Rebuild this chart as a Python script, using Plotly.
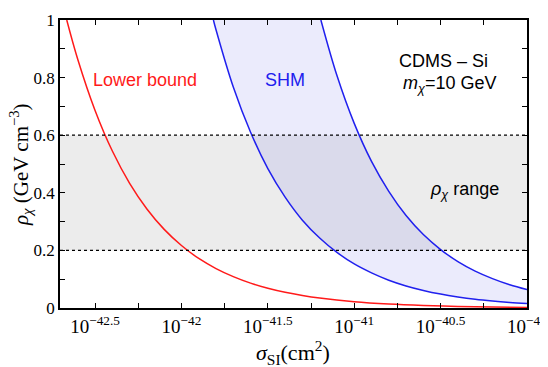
import plotly.graph_objects as go

# Red "Lower bound" curve: log10(sigma) and rho
red_logsig = [-42.664, -42.6, -42.5, -42.4, -42.3, -42.2, -42.1, -42.0, -41.9, -41.8, -41.7,
              -41.6, -41.5, -41.4, -41.3, -41.2, -41.0, -40.8, -40.6, -40.4, -40.2, -40.0]
red_rho = [1.0, 0.863, 0.686, 0.545, 0.433, 0.344, 0.273, 0.217, 0.172, 0.137, 0.109,
           0.0863, 0.0686, 0.0545, 0.0433, 0.0344, 0.0217, 0.0137, 0.00863, 0.00545, 0.00344, 0.00217]

# SHM band: left (lower) edge
shm_lo_logsig = [-41.815, -41.8, -41.7, -41.6, -41.5, -41.4, -41.3, -41.2, -41.1, -41.0,
                 -40.9, -40.8, -40.7, -40.6, -40.5, -40.4, -40.3, -40.2, -40.1, -40.0]
shm_lo_rho = [1.0, 0.966, 0.767, 0.610, 0.484, 0.385, 0.305, 0.243, 0.193, 0.153,
              0.122, 0.0966, 0.0767, 0.0610, 0.0484, 0.0385, 0.0305, 0.0243, 0.0193, 0.0153]

# SHM band: right (upper) edge
shm_hi_logsig = [-41.193, -41.1, -41.0, -40.9, -40.8, -40.7, -40.6, -40.5, -40.4, -40.3,
                 -40.2, -40.1, -40.0]
shm_hi_rho = [1.0, 0.807, 0.641, 0.509, 0.405, 0.321, 0.255, 0.203, 0.161, 0.128,
              0.102, 0.0807, 0.0641]

rho_range = [0.2, 0.6]

x_tick_exps = [-42.5, -42.0, -41.5, -41.0, -40.5, -40.0]
x_tick_labels = ["10<sup>−42.5</sup>", "10<sup>−42</sup>", "10<sup>−41.5</sup>",
                 "10<sup>−41</sup>", "10<sup>−40.5</sup>", "10<sup>−40</sup>"]
x_minor_exps = [-42.75, -42.25, -41.75, -41.25, -40.75, -40.25]
y_ticks = [0, 0.2, 0.4, 0.6, 0.8, 1.0]
y_tick_labels = ["0", "0.2", "0.4", "0.6", "0.8", "1"]
x_min_exp, x_max_exp = -42.703, -40.0

red_sig = [10 ** v for v in red_logsig]
lo_sig = [10 ** v for v in shm_lo_logsig]
hi_sig = [10 ** v for v in shm_hi_logsig]

fig = go.Figure()

# gray rho band
fig.add_shape(type="rect", xref="paper", yref="y", x0=0, x1=1, y0=rho_range[0], y1=rho_range[1],
              fillcolor="rgba(0,0,0,0.075)", line_width=0, layer="below")

# SHM filled polygon
poly_x = lo_sig + hi_sig[::-1]
poly_y = shm_lo_rho + shm_hi_rho[::-1]
fig.add_trace(go.Scatter(x=poly_x, y=poly_y, fill="toself", mode="none",
                         fillcolor="rgba(110,110,235,0.14)", hoverinfo="skip", showlegend=False))

fig.add_trace(go.Scatter(x=lo_sig, y=shm_lo_rho, mode="lines", line=dict(color="#2020ee", width=1.5),
                         line_shape="spline", showlegend=False))
fig.add_trace(go.Scatter(x=hi_sig, y=shm_hi_rho, mode="lines", line=dict(color="#2020ee", width=1.5),
                         line_shape="spline", showlegend=False))
fig.add_trace(go.Scatter(x=red_sig, y=red_rho, mode="lines", line=dict(color="#ff1a1a", width=1.5),
                         line_shape="spline", showlegend=False))

for yv in rho_range:
    fig.add_shape(type="line", xref="paper", yref="y", x0=0, x1=1, y0=yv, y1=yv,
                  line=dict(color="black", width=1.2, dash="dot"))

tickvals = sorted([10 ** e for e in x_tick_exps] + [10 ** e for e in x_minor_exps])
ticktext = []
for tv in tickvals:
    lab = ""
    for e, t in zip(x_tick_exps, x_tick_labels):
        if abs(tv - 10 ** e) / tv < 1e-6:
            lab = t
    ticktext.append(lab)

yvals = [i / 10 for i in range(11)]
ytext = []
for v in yvals:
    lab = ""
    for t, l in zip(y_ticks, y_tick_labels):
        if abs(v - t) < 1e-9:
            lab = l
    ytext.append(lab)

serif = "Liberation Serif, Times New Roman, serif"
sans = "Liberation Sans, Arial, sans-serif"

fig.update_xaxes(type="log", range=[x_min_exp, x_max_exp], tickvals=tickvals, ticktext=ticktext,
                 ticks="inside", ticklen=5, tickwidth=1.2, tickcolor="black", mirror="ticks",
                 showline=True, linecolor="black", linewidth=1.5, showgrid=False, zeroline=False,
                 tickfont=dict(family=serif, size=19, color="black"), automargin=False)
fig.update_yaxes(range=[0, 1], tickvals=yvals, ticktext=ytext,
                 ticks="inside", ticklen=5, tickwidth=1.2, tickcolor="black", mirror="ticks",
                 showline=True, linecolor="black", linewidth=1.5, showgrid=False, zeroline=False,
                 tickfont=dict(family=serif, size=17, color="black"), automargin=False)

# page has an 8px body margin: size the figure so it fills the 548x367 window
OFF = 8
W, H = 548 - OFF, 367 - OFF
ml, mr, mt, mb = 60 - OFF, 21, 20 - OFF, 59
pw, ph = W - ml - mr, H - mt - mb


def px(xp):
    return (xp - OFF - ml) / pw


def py(yp):
    return 1 - (yp - OFF - mt) / ph


annots = [
    dict(text="Lower bound", x=145, y=80, color="#ff1a1a", size=18, fam=sans),
    dict(text="SHM", x=285, y=80, color="#2020ee", size=18, fam=sans),
    dict(text="CDMS – Si", x=443, y=61, color="black", size=18, fam=sans),
    dict(text="<i>m</i><sub><i>χ</i></sub>=10 GeV", x=449, y=84, color="black", size=18, fam=sans),
    dict(text="<i>ρ</i><sub><i>χ</i></sub> range", x=464, y=190, color="black", size=18, fam=sans),
    dict(text="<i>σ</i><sub>SI</sub>(cm<sup>2</sup>)", x=293, y=352, color="black", size=22, fam=serif),
]
for a in annots:
    fig.add_annotation(text=a["text"], xref="paper", yref="paper",
                       x=px(a["x"]), y=py(a["y"]),
                       showarrow=False, xanchor="center", yanchor="middle",
                       font=dict(family=a["fam"], size=a["size"], color=a["color"]))

# y axis title
fig.add_annotation(text="<i>ρ</i><sub><i>χ</i></sub> (GeV cm<sup>−3</sup>)", xref="paper", yref="paper",
                   x=px(20), y=py(165), textangle=-90,
                   showarrow=False, xanchor="center", yanchor="middle",
                   font=dict(family=serif, size=21, color="black"))

fig.update_layout(width=W, height=H, margin=dict(l=ml, r=mr, t=mt, b=mb, autoexpand=False),
                  plot_bgcolor="white", paper_bgcolor="white", showlegend=False)

fig.write_html("out.html")
